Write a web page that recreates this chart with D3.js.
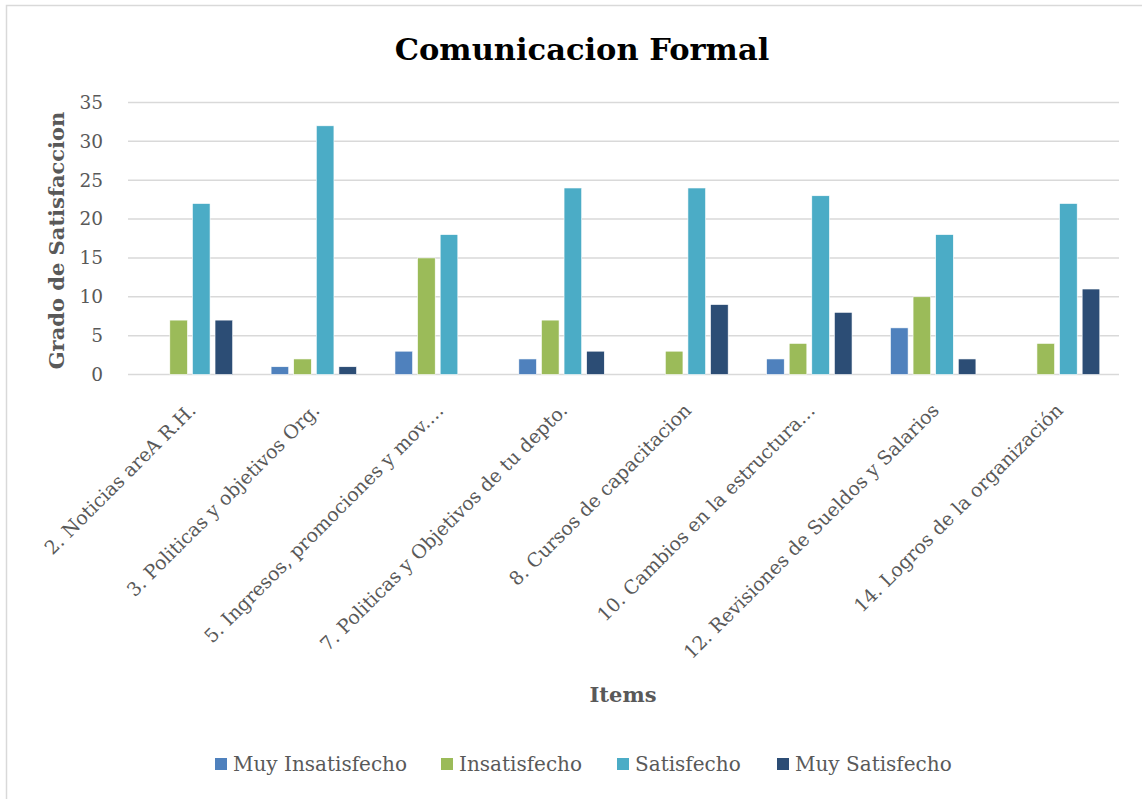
<!DOCTYPE html>
<html>
<head>
<meta charset="utf-8">
<script src="https://cdn.jsdelivr.net/npm/d3@7"></script>
<style>
  html, body { margin: 0; padding: 0; background: #fff; }
  svg { display: block; }
  text { font-family: "DejaVu Serif", "Liberation Serif", serif; }
</style>
</head>
<body>
<svg id="chart" width="1142" height="799"></svg>
<script>
const categories = [
  "2. Noticias areA R.H.",
  "3. Politicas y objetivos Org.",
  "5. Ingresos, promociones y mov.…",
  "7. Politicas y Objetivos de tu depto.",
  "8. Cursos de capacitacion",
  "10. Cambios en la estructura…",
  "12. Revisiones de Sueldos y Salarios",
  "14. Logros de la organización"
];
const seriesNames = ["Muy Insatisfecho", "Insatisfecho", "Satisfecho", "Muy Satisfecho"];
const muyInsatisfecho = [0, 1, 3, 2, 0, 2, 6, 0];
const insatisfecho    = [7, 2, 15, 7, 3, 4, 10, 4];
const satisfecho      = [22, 32, 18, 24, 24, 23, 18, 22];
const muySatisfecho   = [7, 1, 0, 3, 9, 8, 2, 11];
const yTicks = [0, 5, 10, 15, 20, 25, 30, 35];
const colors = ["#4F81BD", "#9BBB59", "#4BACC6", "#2C4D75"];

const seriesValues = [muyInsatisfecho, insatisfecho, satisfecho, muySatisfecho];

const svg = d3.select("#chart");

// outer border
svg.append("rect")
  .attr("x", 6.5).attr("y", 5.5)
  .attr("width", 1150).attr("height", 820)
  .attr("fill", "#fff")
  .attr("stroke", "#D9D9D9").attr("stroke-width", 1.5);

const plotLeft = 128, plotRight = 1119, plotTop = 102.5, plotBottom = 374.5;

const x0 = d3.scaleBand().domain(categories).range([plotLeft, plotRight])
  .paddingInner(0.27).paddingOuter(0.135);
const x1 = d3.scaleBand().domain(seriesNames).range([0, x0.bandwidth()])
  .paddingInner(0.22).paddingOuter(0.11);
const y = d3.scaleLinear().domain([0, 35]).range([plotBottom, plotTop]);

// gridlines
svg.append("g").selectAll("line").data(yTicks).join("line")
  .attr("x1", plotLeft).attr("x2", plotRight)
  .attr("y1", d => y(d)).attr("y2", d => y(d))
  .attr("stroke", "#D9D9D9").attr("stroke-width", 1.5);

// y axis labels
const yAxis = d3.axisLeft(y).tickValues(yTicks).tickSize(0).tickPadding(0);
const yg = svg.append("g").attr("transform", `translate(${plotLeft - 25},0)`).call(yAxis);
yg.select(".domain").remove();
yg.selectAll("text")
  .attr("fill", "#595959")
  .style("font-family", '"DejaVu Serif", serif')
  .style("font-size", "18.5px");

// bars
const data = categories.map((c, i) => ({ cat: c, vals: seriesNames.map((s, j) => ({ s, v: seriesValues[j][i], j })) }));
const groups = svg.append("g").selectAll("g").data(data).join("g")
  .attr("transform", d => `translate(${x0(d.cat)},0)`);
groups.selectAll("rect").data(d => d.vals.filter(e => e.v > 0)).join("rect")
  .attr("x", d => x1(d.s))
  .attr("width", x1.bandwidth())
  .attr("y", d => y(d.v))
  .attr("height", d => y(0) - y(d.v))
  .attr("fill", d => colors[d.j])
  .attr("stroke", "#ffffff").attr("stroke-width", 0.6);

// x axis category labels
const xAxis = d3.axisBottom(x0).tickSize(0).tickPadding(0);
const xg = svg.append("g").attr("transform", `translate(0,${plotBottom})`).call(xAxis);
xg.select(".domain").remove();
xg.selectAll(".tick text")
  .attr("text-anchor", "end")
  .attr("fill", "#595959")
  .attr("dy", 0).attr("y", 0)
  .attr("transform", "translate(7,37) rotate(-45)")
  .style("font-family", '"DejaVu Serif", serif')
  .style("font-size", "19px");

// title
svg.append("text")
  .attr("x", 582).attr("y", 60)
  .attr("text-anchor", "middle")
  .attr("fill", "#000")
  .style("font-weight", "bold")
  .style("font-size", "30.5px")
  .text("Comunicacion Formal");

// y axis title
svg.append("text")
  .attr("transform", `translate(64,${(plotTop + plotBottom) / 2 + 2}) rotate(-90)`)
  .attr("text-anchor", "middle")
  .attr("fill", "#595959")
  .style("font-weight", "bold")
  .style("font-size", "21px")
  .text("Grado de Satisfaccion");

// x axis title
svg.append("text")
  .attr("x", 623).attr("y", 702)
  .attr("text-anchor", "middle")
  .attr("fill", "#595959")
  .style("font-weight", "bold")
  .style("font-size", "21px")
  .text("Items");

// legend
const legendX = [215, 441, 617, 777];
const lg = svg.append("g").selectAll("g").data(seriesNames).join("g")
  .attr("transform", (d, i) => `translate(${legendX[i]},764)`);
lg.append("rect").attr("x", 0).attr("y", -6).attr("width", 12).attr("height", 12)
  .attr("fill", (d, i) => colors[i]);
lg.append("text").attr("x", 18).attr("y", 7)
  .attr("fill", "#595959")
  .style("font-size", "20px")
  .text(d => d);
</script>
</body>
</html>
